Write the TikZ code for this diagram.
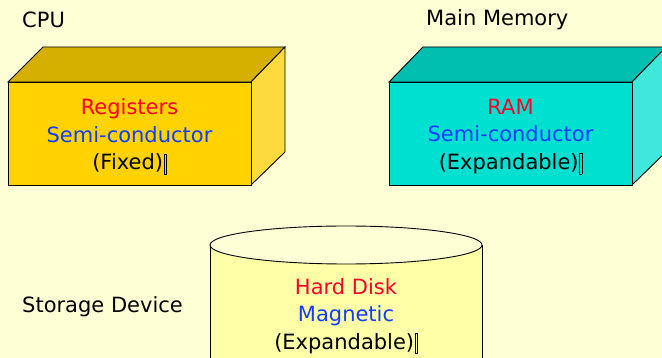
\documentclass[tikz,border=0pt]{standalone}
\usepackage{fontspec}
\setmainfont{DejaVu Sans}
\newcommand\tofubox{\kern0.8pt\raisebox{-0.2em}{\setlength{\fboxsep}{0pt}\setlength{\fboxrule}{0.4pt}\fbox{\rule{0pt}{0.95em}\kern2pt}}}
\definecolor{paper}{RGB}{255,255,214}
\definecolor{cpufront}{RGB}{255,210,0}
\definecolor{cputop}{RGB}{214,176,0}
\definecolor{cpuside}{RGB}{255,218,60}
\definecolor{ramfront}{RGB}{0,224,208}
\definecolor{ramtop}{RGB}{0,191,176}
\definecolor{ramside}{RGB}{64,232,220}
\definecolor{diskbody}{RGB}{255,255,168}
\definecolor{txtred}{RGB}{255,0,40}
\definecolor{txtblue}{RGB}{20,60,255}
\tikzset{
  edge/.style={draw=black, line width=0.9pt, line join=miter},
  caption/.style={font=\fontsize{21}{24}\selectfont, anchor=west, inner sep=0pt},
  boxtext/.style={font=\fontsize{21}{27.5}\selectfont, align=center, inner sep=0pt},
}
\begin{document}
\begin{tikzpicture}[x=1pt, y=-1pt]
  \useasboundingbox (0,0) rectangle (662,358);
  \clip (0,0) rectangle (662,358);
  \fill[paper] (0,0) rectangle (662,358);

  % CPU block: front, top and right faces
  \filldraw[edge, fill=cputop] (8,82) -- (43,47) -- (285,47) -- (251,82) -- cycle;
  \filldraw[edge, fill=cpuside] (251,82) -- (285,47) -- (285,152) -- (251,185) -- cycle;
  \filldraw[edge, fill=cpufront] (8,82) rectangle (251,185);

  % Main memory block
  \filldraw[edge, fill=ramtop] (389,82) -- (423,47) -- (666,47) -- (632,82) -- cycle;
  \filldraw[edge, fill=ramside] (632,82) -- (666,47) -- (666,152) -- (632,185) -- cycle;
  \filldraw[edge, fill=ramfront] (389,82) rectangle (632,185);

  % Disk cylinder
  \fill[diskbody] (210,245) -- (210,370) -- (482,370) -- (482,245) -- cycle;
  \draw[edge] (210,245) -- (210,370) (482,245) -- (482,370);
  \filldraw[edge, fill=paper] (346,245) ellipse [x radius=136, y radius=19];

  % captions
  \node[caption] (cpulabel) at (22,20) {CPU};
  \node[caption] (memlabel) at (426,20) {Main Memory};
  \node[caption] (storelabel) at (22,307) {Storage Device};

  % block contents
  \node[boxtext] (cputext) at (129.5,136.5)
    {\textcolor{txtred}{Registers}\\\textcolor{txtblue}{Semi-conductor}\\(Fixed)\tofubox};
  \node[boxtext] (ramtext) at (510.5,136.5)
    {\textcolor{txtred}{RAM}\\\textcolor{txtblue}{Semi-conductor}\\(Expandable)\tofubox};
  \node[boxtext] (disktext) at (346,316)
    {\textcolor{txtred}{Hard Disk}\\\textcolor{txtblue}{Magnetic}\\(Expandable)\tofubox};
\end{tikzpicture}
\end{document}
